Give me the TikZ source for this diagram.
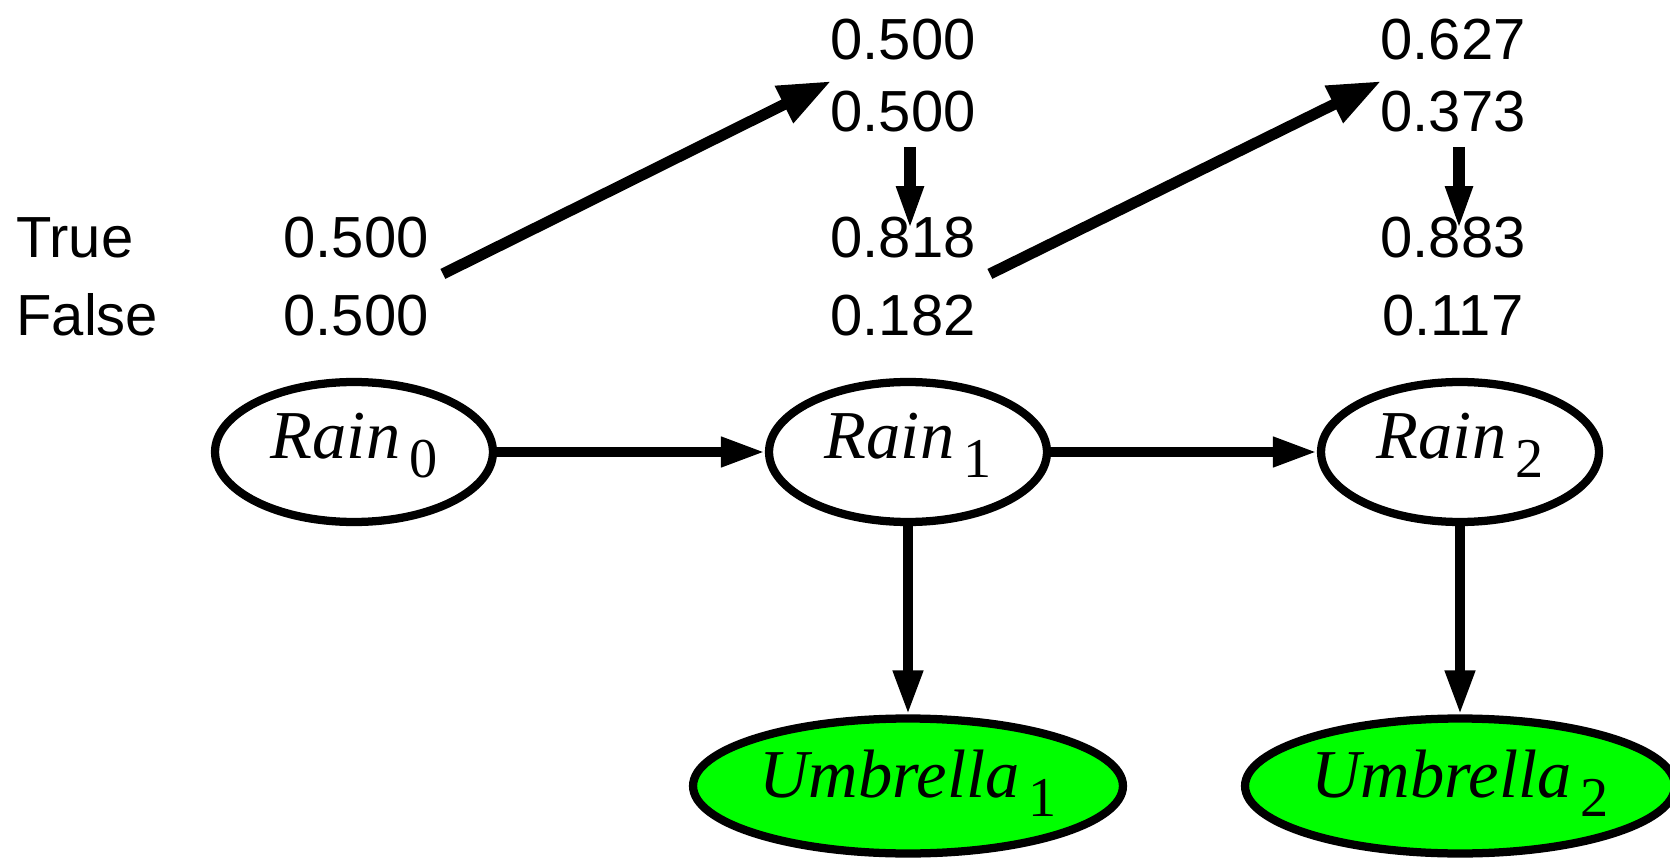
\documentclass[tikz,border=0pt]{standalone}
\usepackage{fontspec}
\setmainfont{Liberation Serif}
\newfontfamily\numfont{Liberation Sans}
\usetikzlibrary{shapes.geometric,arrows.meta}
\definecolor{evidence}{HTML}{00FF00}
\newcommand{\lowsub}[1]{\kern5pt\raisebox{-11pt}{\upshape\fontsize{32}{33}\selectfont #1}}

\begin{document}
\begin{tikzpicture}[x=0.02cm,y=-0.02cm,
		state/.style={ellipse,draw,line width=4.7pt,inner sep=0pt,minimum width=5.56cm,minimum height=2.8cm,
			text height=26pt,text depth=19pt,font=\fontsize{39}{41}\selectfont\itshape},
		obs/.style={state,fill=evidence,minimum width=8.6cm,minimum height=2.7cm,text depth=13pt},
		prob/.style={anchor=base,inner sep=0pt,font=\numfont\fontsize{33}{35}\selectfont},
		link/.style={line width=5.5pt,-{Triangle[length=25pt,width=16pt]}},
		pass/.style={line width=6.3pt,-{Triangle[length=30pt,width=22pt]}},
		upd/.style={line width=6.8pt,-{Triangle[length=25pt,width=14pt]}}]
		\useasboundingbox (0,0) rectangle (1670,861);
		%
		\node[prob,anchor=base west] (lt) at (16,258) {True};
		\node[prob,anchor=base west] (lf) at (16,336) {False};
		\node[prob] (r0t) at (356,258) {0.500};
		\node[prob] (r0f) at (356,336) {0.500};
		%
		\node[prob] (p1t) at (903,60) {0.500};
		\node[prob] (p1f) at (903,132) {0.500};
		\node[prob] (e1t) at (903,258) {0.818};
		\node[prob] (e1f) at (903,336) {0.182};
		%
		\node[prob] (p2t) at (1453,60) {0.627};
		\node[prob] (p2f) at (1453,132) {0.373};
		\node[prob] (e2t) at (1453,258) {0.883};
		\node[prob] (e2f) at (1453,336) {0.117};
		%
		\node[state] (r0) at (354,452) {Rain\lowsub{0}};
		\node[state] (r1) at (908,452) {Rain\lowsub{1}};
		\node[state] (r2) at (1460,452) {Rain\lowsub{2}};
		\node[obs] (u1) at (908,786) {Umbrella\lowsub{1}};
		\node[obs] (u2) at (1460,786) {Umbrella\lowsub{2}};
		%
		\draw[link] (r0) -- (r1);
		\draw[link] (r1) -- (r2);
		\draw[link] (r1) -- (u1);
		\draw[link] (r2) -- (u2);
		%
		\draw[pass] ([shift={(14,15)}]r0t.south east) -- ([shift={(1,-10)}]p1f.north west);
		\draw[pass] ([shift={(14,15)}]e1t.south east) -- ([shift={(1,-10)}]p2f.north west);
		\draw[upd] ([shift={(7,14)}]p1f.south) -- ([shift={(7,13)}]e1t.north);
		\draw[upd] ([shift={(6,14)}]p2f.south) -- ([shift={(6,13)}]e2t.north);
	\end{tikzpicture}
\end{document}
